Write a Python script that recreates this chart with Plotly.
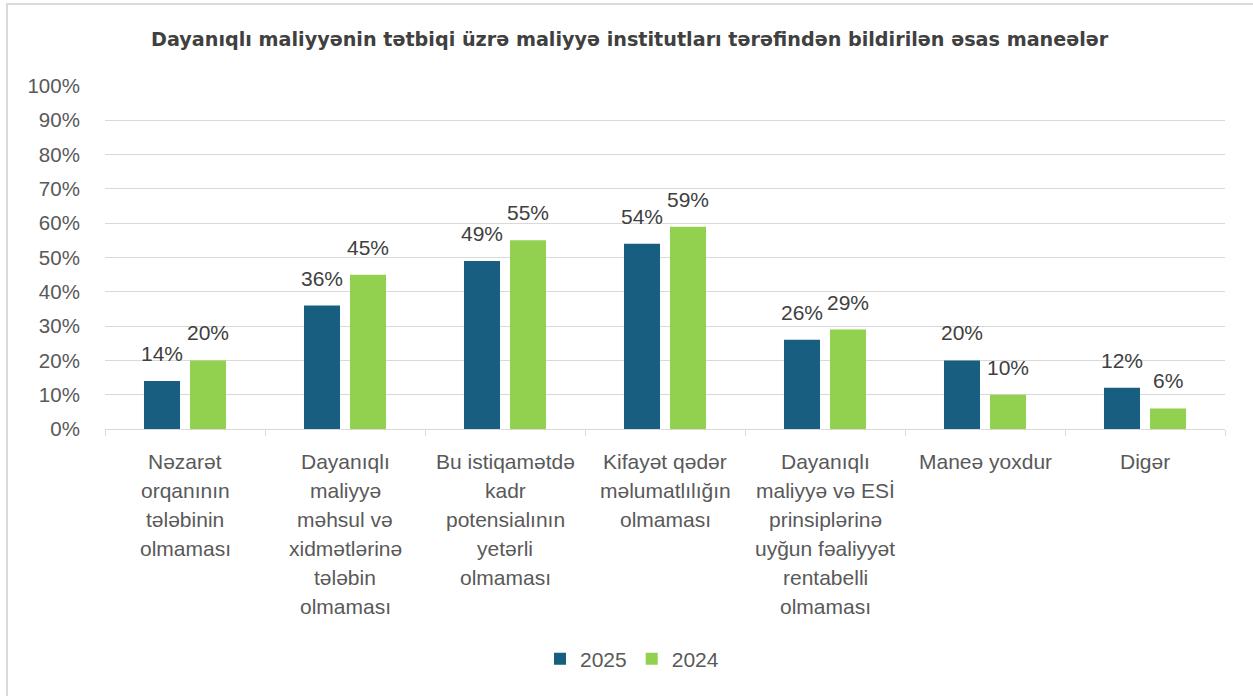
import plotly.graph_objects as go

title = "Dayanıqlı maliyyənin tətbiqi üzrə maliyyə institutları tərəfindən bildirilən əsas maneələr"
categories = [
    "Nəzarət<br>orqanının<br>tələbinin<br>olmaması",
    "Dayanıqlı<br>maliyyə<br>məhsul və<br>xidmətlərinə<br>tələbin<br>olmaması",
    "Bu istiqamətdə<br>kadr<br>potensialının<br>yetərli<br>olmaması",
    "Kifayət qədər<br>məlumatlılığın<br>olmaması",
    "Dayanıqlı<br>maliyyə və ESİ<br>prinsiplərinə<br>uyğun fəaliyyət<br>rentabelli<br>olmaması",
    "Maneə yoxdur",
    "Digər",
]
series_names = ["2025", "2024"]
values_2025 = [14, 36, 49, 54, 26, 20, 12]
values_2024 = [20, 45, 55, 59, 29, 10, 6]
y_ticks = [0, 10, 20, 30, 40, 50, 60, 70, 80, 90, 100]
y_tick_labels = [f"{t}%" for t in y_ticks]

colors = ["#185E81", "#92D050"]
FONT = "Liberation Sans, Arial, sans-serif"
TXT = "#595959"

# plot area in page pixels
L, R, T, B = 105, 1225, 86, 429
W, H = 1253, 696


def px(x):
    return (x - L) / (R - L)


def py(y):
    return (B - y) / (B - T)


fig = go.Figure()
for name, vals, col in zip(series_names, [values_2025, values_2024], colors):
    fig.add_trace(go.Bar(
        name=name, x=categories, y=vals, marker_color=col,
        marker_line_width=0, hoverinfo="skip",
    ))

annotations = []
for k, vals in enumerate([values_2025, values_2024]):
    shift = -23 if k == 0 else 23
    for c, v in zip(categories, vals):
        annotations.append(dict(
            x=c, y=v, xref="x", yref="y", text=f"{v}%", showarrow=False,
            xshift=shift, yanchor="bottom", yshift=14,
            font=dict(family=FONT, size=21, color="#404040"),
        ))
for c in categories:
    for i, line in enumerate(c.split("<br>")):
        annotations.append(dict(
            x=c, y=0, xref="x", yref="y", text=line, showarrow=False,
            yanchor="middle", yshift=-(32 + i * 29),
            font=dict(family=FONT, size=21, color=TXT),
        ))
annotations.append(dict(
    x=px(630), y=py(39), xref="paper", yref="paper",
    xanchor="center", yanchor="middle",
    text=f"<b>{title}</b>", showarrow=False,
    font=dict(family="DejaVu Sans, sans-serif", size=19.2, color="#404040"),
))

fig.update_layout(
    width=W, height=H,
    margin=dict(l=L, r=W - R, t=T, b=H - B),
    paper_bgcolor="white", plot_bgcolor="white",
    barmode="group", bargap=0.425, bargroupgap=0.217,
    showlegend=True,
    legend=dict(orientation="h", x=px(632), xanchor="center",
                y=py(659), yanchor="middle",
                font=dict(family=FONT, size=21, color=TXT),
                itemwidth=30, traceorder="normal"),
    annotations=annotations,
    shapes=[dict(type="rect", xref="paper", yref="paper",
                 x0=px(7), x1=px(1270), y0=py(720), y1=py(4),
                 line=dict(color="#D9D9D9", width=2), layer="below")],
    font=dict(family=FONT),
)
fig.update_xaxes(
    showticklabels=False, showgrid=False, showline=True, linecolor="#D9D9D9",
    linewidth=1, ticks="outside", tickson="boundaries", ticklen=6,
    tickcolor="#D9D9D9", zeroline=False,
)
fig.update_yaxes(
    range=[0, 100], tickvals=y_ticks, ticktext=y_tick_labels,
    showgrid=True, gridcolor="#D9D9D9", gridwidth=1, zeroline=False,
    showline=False, ticks="outside", ticklen=20, tickcolor="rgba(0,0,0,0)",
    tickfont=dict(family=FONT, size=20.5, color=TXT),
)
fig.write_html(
    "out.html",
    config={"displayModeBar": False},
    post_script="document.body.style.margin='0';document.body.style.overflow='hidden';",
)
